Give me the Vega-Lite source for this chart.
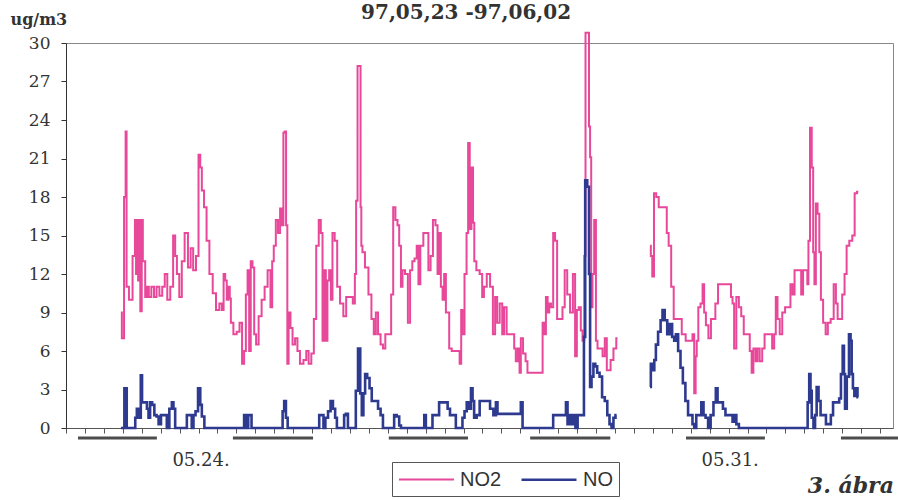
{
"$schema": "https://vega.github.io/schema/vega-lite/v6.json",
"width": 827, "height": 385,
"autosize": {"type": "none"},
"padding": {"left": 66, "top": 43, "right": 5, "bottom": 72},
"background": "white",
"config": {"view": {"stroke": "#888", "strokeWidth": 1},
 "axisY": {"labelOverlap": false, "labelFont": "DejaVu Serif", "labelFontSize": 17, "labelColor": "#333", "labelPadding": 11, "tickSize": 5, "tickColor": "#333", "domainColor": "#333", "grid": false},
 "axisX": {"labelOverlap": false, "grid": false}},
"layer": [
{
"data": {"values": [
{"s":"NO2","g":"1","h":17.4,"v":9},{"s":"NO2","g":"1","h":18.0,"v":7},{"s":"NO2","g":"1","h":18.8,"v":18},{"s":"NO2","g":"1","h":19.0,"v":23.1},{"s":"NO2","g":"1","h":19.4,"v":11},{"s":"NO2","g":"1","h":20.5,"v":10},{"s":"NO2","g":"1","h":21.7,"v":13.4},{"s":"NO2","g":"1","h":22.0,"v":16.2},{"s":"NO2","g":"1","h":22.4,"v":12},{"s":"NO2","g":"1","h":22.7,"v":16.2},{"s":"NO2","g":"1","h":23.0,"v":11.5},{"s":"NO2","g":"1","h":23.3,"v":16.2},{"s":"NO2","g":"1","h":23.8,"v":9.1},{"s":"NO2","g":"1","h":24.2,"v":16.2},{"s":"NO2","g":"1","h":24.5,"v":13},{"s":"NO2","g":"1","h":24.8,"v":13},{"s":"NO2","g":"1","h":25.4,"v":10.2},{"s":"NO2","g":"1","h":25.9,"v":11},{"s":"NO2","g":"1","h":26.6,"v":10.2},{"s":"NO2","g":"1","h":27.5,"v":11},{"s":"NO2","g":"1","h":28.3,"v":10.2},{"s":"NO2","g":"1","h":29.1,"v":11},{"s":"NO2","g":"1","h":30.1,"v":10.3},{"s":"NO2","g":"1","h":30.9,"v":11},{"s":"NO2","g":"1","h":31.7,"v":12},{"s":"NO2","g":"1","h":32.5,"v":10},{"s":"NO2","g":"1","h":33.6,"v":11},{"s":"NO2","g":"1","h":34.3,"v":15},{"s":"NO2","g":"1","h":34.9,"v":13.4},{"s":"NO2","g":"1","h":35.4,"v":12},{"s":"NO2","g":"1","h":36.4,"v":10.2},{"s":"NO2","g":"1","h":37.0,"v":13},{"s":"NO2","g":"1","h":38.2,"v":15.2},{"s":"NO2","g":"1","h":39.1,"v":12.5},{"s":"NO2","g":"1","h":39.9,"v":14},{"s":"NO2","g":"1","h":40.7,"v":12.3},{"s":"NO2","g":"1","h":41.7,"v":13.4},{"s":"NO2","g":"1","h":42.3,"v":21.3},{"s":"NO2","g":"1","h":42.8,"v":20.3},{"s":"NO2","g":"1","h":43.3,"v":18.5},{"s":"NO2","g":"1","h":44.2,"v":17.2},{"s":"NO2","g":"1","h":44.9,"v":14.6},{"s":"NO2","g":"1","h":46.0,"v":12},{"s":"NO2","g":"1","h":47.0,"v":10.5},{"s":"NO2","g":"1","h":48.1,"v":9.2},{"s":"NO2","g":"1","h":49.1,"v":9.7},{"s":"NO2","g":"1","h":49.7,"v":9.2},{"s":"NO2","g":"1","h":50.2,"v":12},{"s":"NO2","g":"1","h":50.7,"v":11.5},{"s":"NO2","g":"1","h":51.2,"v":10},{"s":"NO2","g":"1","h":51.8,"v":11},{"s":"NO2","g":"1","h":52.0,"v":10.1},{"s":"NO2","g":"1","h":52.5,"v":8.2},{"s":"NO2","g":"1","h":53.6,"v":7.3},{"s":"NO2","g":"1","h":54.6,"v":7.5},{"s":"NO2","g":"1","h":55.4,"v":8.2},{"s":"NO2","g":"1","h":56.2,"v":5.0},{"s":"NO2","g":"1","h":56.7,"v":6},{"s":"NO2","g":"1","h":57.3,"v":10.4},{"s":"NO2","g":"1","h":57.8,"v":12.3},{"s":"NO2","g":"1","h":58.3,"v":6},{"s":"NO2","g":"1","h":58.8,"v":13},{"s":"NO2","g":"1","h":59.4,"v":12.5},{"s":"NO2","g":"1","h":59.9,"v":7.3},{"s":"NO2","g":"1","h":60.6,"v":6.5},{"s":"NO2","g":"1","h":61.5,"v":8.7},{"s":"NO2","g":"1","h":62.5,"v":10},{"s":"NO2","g":"1","h":63.4,"v":11},{"s":"NO2","g":"1","h":64.4,"v":12.3},{"s":"NO2","g":"1","h":65.2,"v":9.4},{"s":"NO2","g":"1","h":65.5,"v":13},{"s":"NO2","g":"1","h":66.2,"v":14.2},{"s":"NO2","g":"1","h":66.8,"v":16.2},{"s":"NO2","g":"1","h":67.6,"v":15.2},{"s":"NO2","g":"1","h":68.1,"v":17.1},{"s":"NO2","g":"1","h":68.7,"v":15.8},{"s":"NO2","g":"1","h":69.1,"v":23},{"s":"NO2","g":"1","h":69.5,"v":23.1},{"s":"NO2","g":"1","h":70.0,"v":15.8},{"s":"NO2","g":"1","h":70.3,"v":5},{"s":"NO2","g":"1","h":70.8,"v":9},{"s":"NO2","g":"1","h":71.5,"v":7.8},{"s":"NO2","g":"1","h":72.1,"v":6.5},{"s":"NO2","g":"1","h":73.1,"v":7},{"s":"NO2","g":"1","h":73.6,"v":6},{"s":"NO2","g":"1","h":74.7,"v":5},{"s":"NO2","g":"1","h":75.8,"v":5.3},{"s":"NO2","g":"1","h":76.5,"v":6},{"s":"NO2","g":"1","h":77.3,"v":5},{"s":"NO2","g":"1","h":78.2,"v":5.8},{"s":"NO2","g":"1","h":78.9,"v":8.5},{"s":"NO2","g":"1","h":79.7,"v":14.2},{"s":"NO2","g":"1","h":80.5,"v":16.2},{"s":"NO2","g":"1","h":81.0,"v":15.2},{"s":"NO2","g":"1","h":81.6,"v":6.8},{"s":"NO2","g":"1","h":82.1,"v":12.3},{"s":"NO2","g":"1","h":82.6,"v":6.8},{"s":"NO2","g":"1","h":83.1,"v":11.5},{"s":"NO2","g":"1","h":83.7,"v":12.3},{"s":"NO2","g":"1","h":84.2,"v":10},{"s":"NO2","g":"1","h":84.7,"v":15.2},{"s":"NO2","g":"1","h":85.6,"v":14.6},{"s":"NO2","g":"1","h":86.3,"v":11},{"s":"NO2","g":"1","h":87.4,"v":9.7},{"s":"NO2","g":"1","h":88.4,"v":8.7},{"s":"NO2","g":"1","h":89.2,"v":10.2},{"s":"NO2","g":"1","h":90.5,"v":10.2},{"s":"NO2","g":"1","h":91.3,"v":9.7},{"s":"NO2","g":"1","h":91.8,"v":12},{"s":"NO2","g":"1","h":92.1,"v":17.7},{"s":"NO2","g":"1","h":92.7,"v":28.2},{"s":"NO2","g":"1","h":93.2,"v":28.2},{"s":"NO2","g":"1","h":93.5,"v":17.2},{"s":"NO2","g":"1","h":93.7,"v":14.2},{"s":"NO2","g":"1","h":94.2,"v":13.7},{"s":"NO2","g":"1","h":95.3,"v":12.5},{"s":"NO2","g":"1","h":96.4,"v":10.4},{"s":"NO2","g":"1","h":97.2,"v":8.5},{"s":"NO2","g":"1","h":97.9,"v":7.3},{"s":"NO2","g":"1","h":98.5,"v":9},{"s":"NO2","g":"1","h":99.3,"v":7.3},{"s":"NO2","g":"1","h":100.1,"v":6.5},{"s":"NO2","g":"1","h":100.8,"v":6.2},{"s":"NO2","g":"1","h":101.6,"v":7.3},{"s":"NO2","g":"1","h":102.7,"v":7.3},{"s":"NO2","g":"1","h":103.4,"v":10.4},{"s":"NO2","g":"1","h":104.0,"v":17.2},{"s":"NO2","g":"1","h":104.8,"v":16.2},{"s":"NO2","g":"1","h":105.3,"v":15.8},{"s":"NO2","g":"1","h":105.9,"v":14.2},{"s":"NO2","g":"1","h":106.4,"v":11},{"s":"NO2","g":"1","h":106.9,"v":12.3},{"s":"NO2","g":"1","h":108.0,"v":12},{"s":"NO2","g":"1","h":108.7,"v":8.2},{"s":"NO2","g":"1","h":109.4,"v":12.3},{"s":"NO2","g":"1","h":110.1,"v":13},{"s":"NO2","g":"1","h":110.8,"v":13.2},{"s":"NO2","g":"1","h":111.5,"v":14.2},{"s":"NO2","g":"1","h":111.9,"v":11.2},{"s":"NO2","g":"1","h":112.7,"v":14.2},{"s":"NO2","g":"1","h":113.8,"v":15.2},{"s":"NO2","g":"1","h":114.5,"v":15.2},{"s":"NO2","g":"1","h":115.2,"v":12.3},{"s":"NO2","g":"1","h":115.9,"v":13.4},{"s":"NO2","g":"1","h":116.7,"v":16.2},{"s":"NO2","g":"1","h":117.5,"v":15.8},{"s":"NO2","g":"1","h":118.0,"v":12},{"s":"NO2","g":"1","h":118.5,"v":15.2},{"s":"NO2","g":"1","h":119.1,"v":11},{"s":"NO2","g":"1","h":119.6,"v":10},{"s":"NO2","g":"1","h":120.1,"v":12},{"s":"NO2","g":"1","h":120.7,"v":9},{"s":"NO2","g":"1","h":121.2,"v":9},{"s":"NO2","g":"1","h":121.7,"v":6.2},{"s":"NO2","g":"1","h":122.8,"v":6},{"s":"NO2","g":"1","h":124.4,"v":6},{"s":"NO2","g":"1","h":125.1,"v":5},{"s":"NO2","g":"1","h":125.4,"v":9.2},{"s":"NO2","g":"1","h":125.9,"v":7.3},{"s":"NO2","g":"1","h":126.7,"v":12},{"s":"NO2","g":"1","h":127.2,"v":15.2},{"s":"NO2","g":"1","h":127.7,"v":22.2},{"s":"NO2","g":"1","h":128.2,"v":15.5},{"s":"NO2","g":"1","h":128.8,"v":20.3},{"s":"NO2","g":"1","h":129.2,"v":16},{"s":"NO2","g":"1","h":129.6,"v":13},{"s":"NO2","g":"1","h":130.5,"v":12.3},{"s":"NO2","g":"1","h":131.7,"v":12},{"s":"NO2","g":"1","h":132.1,"v":10.2},{"s":"NO2","g":"1","h":132.8,"v":11},{"s":"NO2","g":"1","h":133.9,"v":12},{"s":"NO2","g":"1","h":134.9,"v":11},{"s":"NO2","g":"1","h":135.7,"v":7.3},{"s":"NO2","g":"1","h":136.3,"v":10.2},{"s":"NO2","g":"1","h":137.0,"v":8.2},{"s":"NO2","g":"1","h":137.9,"v":9.7},{"s":"NO2","g":"1","h":138.6,"v":7.3},{"s":"NO2","g":"1","h":139.1,"v":9.4},{"s":"NO2","g":"1","h":140.2,"v":7.3},{"s":"NO2","g":"1","h":141.8,"v":7.3},{"s":"NO2","g":"1","h":142.3,"v":6.2},{"s":"NO2","g":"1","h":142.8,"v":5.2},{"s":"NO2","g":"1","h":143.6,"v":6.2},{"s":"NO2","g":"1","h":143.9,"v":4.3},{"s":"NO2","g":"1","h":144.4,"v":7},{"s":"NO2","g":"1","h":145.3,"v":5.8},{"s":"NO2","g":"1","h":146.0,"v":5.2},{"s":"NO2","g":"1","h":146.5,"v":4.3},{"s":"NO2","g":"1","h":150.8,"v":4.3},{"s":"NO2","g":"1","h":151.3,"v":8.2},{"s":"NO2","g":"1","h":151.8,"v":7.3},{"s":"NO2","g":"1","h":152.4,"v":10.2},{"s":"NO2","g":"1","h":152.9,"v":9},{"s":"NO2","g":"1","h":153.4,"v":9.7},{"s":"NO2","g":"1","h":154.0,"v":9.4},{"s":"NO2","g":"1","h":154.8,"v":15.2},{"s":"NO2","g":"1","h":155.2,"v":14.6},{"s":"NO2","g":"1","h":156.1,"v":8.5},{"s":"NO2","g":"1","h":157.1,"v":8.5},{"s":"NO2","g":"1","h":157.6,"v":9.4},{"s":"NO2","g":"1","h":158.5,"v":12.3},{"s":"NO2","g":"1","h":159.2,"v":10.4},{"s":"NO2","g":"1","h":160.3,"v":9},{"s":"NO2","g":"1","h":161.0,"v":12},{"s":"NO2","g":"1","h":161.7,"v":5.6},{"s":"NO2","g":"1","h":162.1,"v":9.2},{"s":"NO2","g":"1","h":162.9,"v":9.4},{"s":"NO2","g":"1","h":163.4,"v":7.6},{"s":"NO2","g":"1","h":164.0,"v":6.8},{"s":"NO2","g":"1","h":164.5,"v":13.4},{"s":"NO2","g":"1","h":164.8,"v":30.8},{"s":"NO2","g":"1","h":165.6,"v":30.8},{"s":"NO2","g":"1","h":165.9,"v":23.5},{"s":"NO2","g":"1","h":166.3,"v":21.1},{"s":"NO2","g":"1","h":166.6,"v":9.4},{"s":"NO2","g":"1","h":167.1,"v":12},{"s":"NO2","g":"1","h":167.7,"v":16.2},{"s":"NO2","g":"1","h":168.2,"v":6.8},{"s":"NO2","g":"1","h":168.7,"v":6.2},{"s":"NO2","g":"1","h":169.8,"v":6.2},{"s":"NO2","g":"1","h":170.3,"v":5.6},{"s":"NO2","g":"1","h":171.2,"v":7},{"s":"NO2","g":"1","h":171.6,"v":4.5},{"s":"NO2","g":"1","h":172.2,"v":4.5},{"s":"NO2","g":"1","h":173.0,"v":5.3},{"s":"NO2","g":"1","h":174.0,"v":6.2},{"s":"NO2","g":"1","h":174.8,"v":7},
{"s":"NO2","g":"2","h":185.1,"v":14.2},{"s":"NO2","g":"2","h":185.6,"v":13.4},{"s":"NO2","g":"2","h":186.0,"v":11.8},{"s":"NO2","g":"2","h":186.7,"v":18.3},{"s":"NO2","g":"2","h":187.4,"v":18},{"s":"NO2","g":"2","h":188.3,"v":17.2},{"s":"NO2","g":"2","h":190.2,"v":17.2},{"s":"NO2","g":"2","h":190.6,"v":15.2},{"s":"NO2","g":"2","h":191.4,"v":14.2},{"s":"NO2","g":"2","h":192.2,"v":11},{"s":"NO2","g":"2","h":193.0,"v":8.5},{"s":"NO2","g":"2","h":194.8,"v":8.5},{"s":"NO2","g":"2","h":195.5,"v":7.3},{"s":"NO2","g":"2","h":197.3,"v":6.8},{"s":"NO2","g":"2","h":198.3,"v":6.8},{"s":"NO2","g":"2","h":198.8,"v":7.3},{"s":"NO2","g":"2","h":199.4,"v":2.7},{"s":"NO2","g":"2","h":199.7,"v":5.6},{"s":"NO2","g":"2","h":200.1,"v":6.8},{"s":"NO2","g":"2","h":200.7,"v":9.4},{"s":"NO2","g":"2","h":201.5,"v":9.7},{"s":"NO2","g":"2","h":202.0,"v":11.2},{"s":"NO2","g":"2","h":202.5,"v":9},{"s":"NO2","g":"2","h":203.1,"v":8},{"s":"NO2","g":"2","h":204.1,"v":7},{"s":"NO2","g":"2","h":204.7,"v":8.5},{"s":"NO2","g":"2","h":205.4,"v":8.5},{"s":"NO2","g":"2","h":206.2,"v":9.7},{"s":"NO2","g":"2","h":207.1,"v":11.2},{"s":"NO2","g":"2","h":209.9,"v":11.2},{"s":"NO2","g":"2","h":210.5,"v":11.2},{"s":"NO2","g":"2","h":211.0,"v":10.2},{"s":"NO2","g":"2","h":211.5,"v":9.7},{"s":"NO2","g":"2","h":212.0,"v":6.2},{"s":"NO2","g":"2","h":212.9,"v":10.2},{"s":"NO2","g":"2","h":213.6,"v":9.4},{"s":"NO2","g":"2","h":214.4,"v":8.7},{"s":"NO2","g":"2","h":215.2,"v":7.3},{"s":"NO2","g":"2","h":216.3,"v":7.3},{"s":"NO2","g":"2","h":217.1,"v":6},{"s":"NO2","g":"2","h":217.5,"v":4.3},{"s":"NO2","g":"2","h":218.2,"v":6.2},{"s":"NO2","g":"2","h":218.9,"v":5.2},{"s":"NO2","g":"2","h":219.4,"v":6.2},{"s":"NO2","g":"2","h":220.3,"v":5.2},{"s":"NO2","g":"2","h":221.0,"v":6.2},{"s":"NO2","g":"2","h":221.8,"v":7.3},{"s":"NO2","g":"2","h":223.4,"v":7.3},{"s":"NO2","g":"2","h":224.2,"v":6.2},{"s":"NO2","g":"2","h":224.7,"v":7.3},{"s":"NO2","g":"2","h":225.2,"v":10.2},{"s":"NO2","g":"2","h":225.8,"v":8.5},{"s":"NO2","g":"2","h":226.6,"v":7.3},{"s":"NO2","g":"2","h":227.4,"v":9},{"s":"NO2","g":"2","h":228.4,"v":9.4},{"s":"NO2","g":"2","h":229.2,"v":9.4},{"s":"NO2","g":"2","h":230.0,"v":11.2},{"s":"NO2","g":"2","h":230.5,"v":10.4},{"s":"NO2","g":"2","h":231.3,"v":12.3},{"s":"NO2","g":"2","h":232.6,"v":12.3},{"s":"NO2","g":"2","h":233.4,"v":10.4},{"s":"NO2","g":"2","h":233.8,"v":12.3},{"s":"NO2","g":"2","h":234.8,"v":12.3},{"s":"NO2","g":"2","h":235.1,"v":11.2},{"s":"NO2","g":"2","h":235.5,"v":14.6},{"s":"NO2","g":"2","h":236.1,"v":23.4},{"s":"NO2","g":"2","h":236.6,"v":20.3},{"s":"NO2","g":"2","h":237.0,"v":13.7},{"s":"NO2","g":"2","h":237.4,"v":11.2},{"s":"NO2","g":"2","h":237.9,"v":17.5},{"s":"NO2","g":"2","h":238.5,"v":16.7},{"s":"NO2","g":"2","h":239.0,"v":13.7},{"s":"NO2","g":"2","h":239.5,"v":10},{"s":"NO2","g":"2","h":240.4,"v":8.2},{"s":"NO2","g":"2","h":241.1,"v":7.3},{"s":"NO2","g":"2","h":241.8,"v":8.2},{"s":"NO2","g":"2","h":242.9,"v":8.5},{"s":"NO2","g":"2","h":243.7,"v":11.2},{"s":"NO2","g":"2","h":244.3,"v":9.7},{"s":"NO2","g":"2","h":244.8,"v":8.5},{"s":"NO2","g":"2","h":245.6,"v":8.5},{"s":"NO2","g":"2","h":246.4,"v":10.4},{"s":"NO2","g":"2","h":247.1,"v":12},{"s":"NO2","g":"2","h":247.7,"v":14.2},{"s":"NO2","g":"2","h":248.8,"v":14.6},{"s":"NO2","g":"2","h":249.6,"v":15},{"s":"NO2","g":"2","h":250.3,"v":18.3},{"s":"NO2","g":"2","h":251.1,"v":18.4},
{"s":"NO","g":"1","h":17.4,"v":0},{"s":"NO","g":"1","h":18.0,"v":0},{"s":"NO","g":"1","h":19.0,"v":3.1},{"s":"NO","g":"1","h":19.5,"v":0},{"s":"NO","g":"1","h":21.7,"v":0},{"s":"NO","g":"1","h":22.2,"v":0.8},{"s":"NO","g":"1","h":22.7,"v":1.5},{"s":"NO","g":"1","h":23.5,"v":0.8},{"s":"NO","g":"1","h":23.9,"v":4.1},{"s":"NO","g":"1","h":24.3,"v":2},{"s":"NO","g":"1","h":25.4,"v":2},{"s":"NO","g":"1","h":25.9,"v":1.5},{"s":"NO","g":"1","h":26.4,"v":0.8},{"s":"NO","g":"1","h":26.9,"v":2},{"s":"NO","g":"1","h":27.7,"v":1.8},{"s":"NO","g":"1","h":28.3,"v":1},{"s":"NO","g":"1","h":29.1,"v":0.9},{"s":"NO","g":"1","h":29.6,"v":0.3},{"s":"NO","g":"1","h":30.6,"v":1},{"s":"NO","g":"1","h":31.7,"v":1},{"s":"NO","g":"1","h":32.2,"v":0},{"s":"NO","g":"1","h":33.3,"v":1.5},{"s":"NO","g":"1","h":33.8,"v":2},{"s":"NO","g":"1","h":34.3,"v":1.5},{"s":"NO","g":"1","h":34.9,"v":0},{"s":"NO","g":"1","h":38.0,"v":0},{"s":"NO","g":"1","h":38.6,"v":1},{"s":"NO","g":"1","h":39.6,"v":1},{"s":"NO","g":"1","h":40.1,"v":0},{"s":"NO","g":"1","h":40.7,"v":1},{"s":"NO","g":"1","h":41.4,"v":1.3},{"s":"NO","g":"1","h":42.3,"v":3.1},{"s":"NO","g":"1","h":42.8,"v":1.8},{"s":"NO","g":"1","h":43.3,"v":0.9},{"s":"NO","g":"1","h":44.4,"v":0},{"s":"NO","g":"1","h":56.2,"v":0},{"s":"NO","g":"1","h":56.7,"v":1},{"s":"NO","g":"1","h":57.5,"v":0},{"s":"NO","g":"1","h":58.0,"v":1},{"s":"NO","g":"1","h":58.5,"v":1},{"s":"NO","g":"1","h":59.1,"v":0},{"s":"NO","g":"1","h":68.4,"v":0},{"s":"NO","g":"1","h":68.9,"v":1.3},{"s":"NO","g":"1","h":69.4,"v":2.1},{"s":"NO","g":"1","h":70.0,"v":0.8},{"s":"NO","g":"1","h":70.5,"v":0},{"s":"NO","g":"1","h":80.0,"v":0},{"s":"NO","g":"1","h":80.5,"v":1},{"s":"NO","g":"1","h":81.4,"v":1},{"s":"NO","g":"1","h":81.8,"v":0},{"s":"NO","g":"1","h":82.6,"v":0.8},{"s":"NO","g":"1","h":83.5,"v":1.3},{"s":"NO","g":"1","h":84.2,"v":2.1},{"s":"NO","g":"1","h":85.0,"v":1.5},{"s":"NO","g":"1","h":85.6,"v":0.8},{"s":"NO","g":"1","h":86.1,"v":0},{"s":"NO","g":"1","h":87.9,"v":0},{"s":"NO","g":"1","h":88.4,"v":1},{"s":"NO","g":"1","h":89.0,"v":1.1},{"s":"NO","g":"1","h":89.7,"v":0},{"s":"NO","g":"1","h":91.6,"v":0},{"s":"NO","g":"1","h":92.1,"v":2.9},{"s":"NO","g":"1","h":93.0,"v":6.2},{"s":"NO","g":"1","h":93.5,"v":2.7},{"s":"NO","g":"1","h":94.0,"v":1},{"s":"NO","g":"1","h":94.5,"v":2.7},{"s":"NO","g":"1","h":95.1,"v":4.2},{"s":"NO","g":"1","h":95.8,"v":3.9},{"s":"NO","g":"1","h":96.6,"v":3.1},{"s":"NO","g":"1","h":97.2,"v":2.1},{"s":"NO","g":"1","h":98.5,"v":2.1},{"s":"NO","g":"1","h":99.3,"v":1.5},{"s":"NO","g":"1","h":100.1,"v":1},{"s":"NO","g":"1","h":100.8,"v":0},{"s":"NO","g":"1","h":103.7,"v":0},{"s":"NO","g":"1","h":104.3,"v":1},{"s":"NO","g":"1","h":105.3,"v":0.9},{"s":"NO","g":"1","h":105.9,"v":0.2},{"s":"NO","g":"1","h":106.4,"v":0},{"s":"NO","g":"1","h":113.3,"v":0},{"s":"NO","g":"1","h":113.8,"v":1},{"s":"NO","g":"1","h":114.3,"v":0},{"s":"NO","g":"1","h":115.9,"v":0},{"s":"NO","g":"1","h":116.4,"v":1},{"s":"NO","g":"1","h":118.0,"v":1},{"s":"NO","g":"1","h":118.5,"v":2},{"s":"NO","g":"1","h":120.7,"v":2},{"s":"NO","g":"1","h":121.2,"v":1.5},{"s":"NO","g":"1","h":122.2,"v":1},{"s":"NO","g":"1","h":123.3,"v":1},{"s":"NO","g":"1","h":123.8,"v":0},{"s":"NO","g":"1","h":125.4,"v":0},{"s":"NO","g":"1","h":125.9,"v":0.8},{"s":"NO","g":"1","h":126.7,"v":1.3},{"s":"NO","g":"1","h":127.3,"v":2},{"s":"NO","g":"1","h":128.1,"v":1.5},{"s":"NO","g":"1","h":128.6,"v":3.1},{"s":"NO","g":"1","h":129.1,"v":2.1},{"s":"NO","g":"1","h":129.6,"v":0.8},{"s":"NO","g":"1","h":130.7,"v":1},{"s":"NO","g":"1","h":131.5,"v":2.1},{"s":"NO","g":"1","h":133.9,"v":2.1},{"s":"NO","g":"1","h":134.9,"v":1.5},{"s":"NO","g":"1","h":136.0,"v":1},{"s":"NO","g":"1","h":136.5,"v":2},{"s":"NO","g":"1","h":137.0,"v":1.1},{"s":"NO","g":"1","h":143.9,"v":1.1},{"s":"NO","g":"1","h":144.4,"v":2},{"s":"NO","g":"1","h":145.0,"v":0},{"s":"NO","g":"1","h":154.0,"v":0},{"s":"NO","g":"1","h":154.8,"v":1},{"s":"NO","g":"1","h":156.6,"v":1},{"s":"NO","g":"1","h":158.2,"v":1},{"s":"NO","g":"1","h":158.7,"v":2},{"s":"NO","g":"1","h":159.2,"v":0.3},{"s":"NO","g":"1","h":159.8,"v":1},{"s":"NO","g":"1","h":160.3,"v":0.3},{"s":"NO","g":"1","h":161.0,"v":1},{"s":"NO","g":"1","h":161.9,"v":0},{"s":"NO","g":"1","h":162.4,"v":1},{"s":"NO","g":"1","h":164.0,"v":1},{"s":"NO","g":"1","h":164.3,"v":7.1},{"s":"NO","g":"1","h":164.8,"v":19.3},{"s":"NO","g":"1","h":165.6,"v":18.8},{"s":"NO","g":"1","h":165.9,"v":12},{"s":"NO","g":"1","h":166.3,"v":3.2},{"s":"NO","g":"1","h":166.8,"v":4},{"s":"NO","g":"1","h":167.5,"v":5},{"s":"NO","g":"1","h":168.0,"v":4.8},{"s":"NO","g":"1","h":168.7,"v":4.3},{"s":"NO","g":"1","h":169.5,"v":4},{"s":"NO","g":"1","h":170.3,"v":2.4},{"s":"NO","g":"1","h":171.2,"v":2.1},{"s":"NO","g":"1","h":171.9,"v":1},{"s":"NO","g":"1","h":172.6,"v":0.3},{"s":"NO","g":"1","h":173.2,"v":0},{"s":"NO","g":"1","h":173.8,"v":0.8},{"s":"NO","g":"1","h":174.5,"v":1},
{"s":"NO","g":"2","h":185.1,"v":3.2},{"s":"NO","g":"2","h":185.6,"v":5},{"s":"NO","g":"2","h":186.2,"v":4.5},{"s":"NO","g":"2","h":186.7,"v":5.3},{"s":"NO","g":"2","h":187.2,"v":6.5},{"s":"NO","g":"2","h":188.1,"v":7.5},{"s":"NO","g":"2","h":188.8,"v":8.4},{"s":"NO","g":"2","h":189.3,"v":9.2},{"s":"NO","g":"2","h":190.2,"v":8.4},{"s":"NO","g":"2","h":190.9,"v":7.3},{"s":"NO","g":"2","h":191.7,"v":8.1},{"s":"NO","g":"2","h":192.5,"v":7.1},{"s":"NO","g":"2","h":193.0,"v":6.8},{"s":"NO","g":"2","h":193.6,"v":7.3},{"s":"NO","g":"2","h":194.4,"v":6},{"s":"NO","g":"2","h":195.1,"v":4.7},{"s":"NO","g":"2","h":195.9,"v":3.5},{"s":"NO","g":"2","h":196.7,"v":2.1},{"s":"NO","g":"2","h":197.6,"v":1},{"s":"NO","g":"2","h":198.3,"v":1},{"s":"NO","g":"2","h":198.8,"v":0.3},{"s":"NO","g":"2","h":199.4,"v":0},{"s":"NO","g":"2","h":200.1,"v":1},{"s":"NO","g":"2","h":200.9,"v":1},{"s":"NO","g":"2","h":201.8,"v":2},{"s":"NO","g":"2","h":202.3,"v":1},{"s":"NO","g":"2","h":203.1,"v":0.8},{"s":"NO","g":"2","h":203.9,"v":0},{"s":"NO","g":"2","h":204.7,"v":1},{"s":"NO","g":"2","h":205.7,"v":2},{"s":"NO","g":"2","h":206.2,"v":3.1},{"s":"NO","g":"2","h":206.8,"v":2},{"s":"NO","g":"2","h":207.8,"v":2},{"s":"NO","g":"2","h":208.6,"v":1.5},{"s":"NO","g":"2","h":209.4,"v":1},{"s":"NO","g":"2","h":209.9,"v":1},{"s":"NO","g":"2","h":211.0,"v":1},{"s":"NO","g":"2","h":211.5,"v":0.5},{"s":"NO","g":"2","h":212.0,"v":1},{"s":"NO","g":"2","h":212.9,"v":0.3},{"s":"NO","g":"2","h":213.6,"v":0},{"s":"NO","g":"2","h":234.8,"v":0},{"s":"NO","g":"2","h":235.3,"v":2},{"s":"NO","g":"2","h":235.8,"v":4.2},{"s":"NO","g":"2","h":236.1,"v":2.9},{"s":"NO","g":"2","h":236.6,"v":0.8},{"s":"NO","g":"2","h":237.2,"v":0},{"s":"NO","g":"2","h":237.6,"v":1},{"s":"NO","g":"2","h":238.2,"v":3.2},{"s":"NO","g":"2","h":238.8,"v":2.1},{"s":"NO","g":"2","h":239.5,"v":1},{"s":"NO","g":"2","h":240.6,"v":1},{"s":"NO","g":"2","h":241.1,"v":0.3},{"s":"NO","g":"2","h":242.1,"v":0.3},{"s":"NO","g":"2","h":242.7,"v":1},{"s":"NO","g":"2","h":243.5,"v":2},{"s":"NO","g":"2","h":244.8,"v":2},{"s":"NO","g":"2","h":245.3,"v":2.3},{"s":"NO","g":"2","h":245.9,"v":4.2},{"s":"NO","g":"2","h":246.4,"v":6.4},{"s":"NO","g":"2","h":246.7,"v":4.2},{"s":"NO","g":"2","h":247.1,"v":1.5},{"s":"NO","g":"2","h":247.8,"v":4},{"s":"NO","g":"2","h":248.5,"v":7.3},{"s":"NO","g":"2","h":248.8,"v":6.8},{"s":"NO","g":"2","h":249.2,"v":4.2},{"s":"NO","g":"2","h":249.6,"v":3.1},{"s":"NO","g":"2","h":250.1,"v":2.5},{"s":"NO","g":"2","h":250.6,"v":3.1},{"s":"NO","g":"2","h":251.1,"v":2.4}
]},
"mark": {"type": "line", "clip": false, "interpolate": "step"},
"encoding": {
"x": {"field": "h", "type": "quantitative", "scale": {"domain": [0, 262.1], "nice": false, "zero": false},
 "axis": {"title": null, "labels": false, "tickSize": 5, "tickColor": "#555", "domainColor": "#555", "tickCount": 60,
 "values": [0,6,12,18,24,30,36,42,48,54,60,66,72,78,84,90,96,102,108,114,120,126,132,138,144,150,156,162,168,174,180,186,192,198,204,210,216,222,228,234,240,246,252,258]}},
"y": {"field": "v", "type": "quantitative", "scale": {"domain": [0, 30], "nice": false},
 "axis": {"values": [0,3,6,9,12,15,18,21,24,27,30], "tickCount": 20, "labelOverlap": false, "title": "ug/m3", "titleAngle": 0, "titleX": -56, "titleY": -19, "titleAlign": "left", "titleBaseline": "alphabetic", "titleFont": "DejaVu Serif", "titleFontSize": 16, "titleFontWeight": "bold", "titleColor": "#333"}},
"color": {"field": "s", "type": "nominal", "scale": {"domain": ["NO2", "NO"], "range": ["#e8489a", "#2d3a8f"]},
 "legend": {"orient": "none", "legendX": 326, "legendY": 419, "direction": "horizontal", "title": null, "strokeColor": "#555", "padding": 6, "symbolType": "M-1,0H4.5", "symbolSize": 400, "symbolStrokeWidth": 2, "labelFont": "Liberation Sans", "labelFontSize": 20, "labelColor": "#333", "labelOffset": 40, "columnPadding": 14}},
"strokeWidth": {"field": "s", "type": "nominal", "scale": {"domain": ["NO2", "NO"], "range": [2, 2.6]}, "legend": null},
"detail": {"field": "g"}
}
},
{
"data": {"values": [{"h": 3.8, "h2": 28.8}, {"h": 52.9, "h2": 78.3}, {"h": 102.3, "h2": 127.4}, {"h": 147.1, "h2": 172.5}, {"h": 196.5, "h2": 221.5}, {"h": 245.6, "h2": 264}]},
"mark": {"type": "rule", "strokeWidth": 3, "color": "#4d4d4d", "clip": false},
"encoding": {"x": {"field": "h", "type": "quantitative", "title": null}, "x2": {"field": "h2"}, "y": {"datum": -0.78, "type": "quantitative"}}
},
{
"data": {"values": [{"label": "05.24.", "h": 42.8}, {"label": "05.31.", "h": 210.5}]},
"mark": {"type": "text", "font": "DejaVu Serif", "fontSize": 18, "color": "#333", "baseline": "middle", "clip": false},
"encoding": {"x": {"field": "h", "type": "quantitative", "title": null}, "y": {"datum": -2.6, "type": "quantitative"}, "text": {"field": "label"}}
},
{
"data": {"values": [{"label": "97,05,23 -97,06,02", "h": 126.8}]},
"mark": {"type": "text", "font": "DejaVu Serif", "fontSize": 20, "fontWeight": "bold", "color": "#333", "align": "center", "baseline": "alphabetic", "clip": false},
"encoding": {"x": {"field": "h", "type": "quantitative", "title": null}, "y": {"datum": 31.9, "type": "quantitative"}, "text": {"field": "label"}}
},
{
"data": {"values": [{"label": "3. ábra", "h": 262.4}]},
"mark": {"type": "text", "font": "DejaVu Serif", "fontSize": 22, "fontStyle": "italic", "fontWeight": "bold", "color": "#333", "align": "right", "baseline": "alphabetic", "clip": false},
"encoding": {"x": {"field": "h", "type": "quantitative", "title": null}, "y": {"datum": -5.1, "type": "quantitative"}, "text": {"field": "label"}}
}
]
}
